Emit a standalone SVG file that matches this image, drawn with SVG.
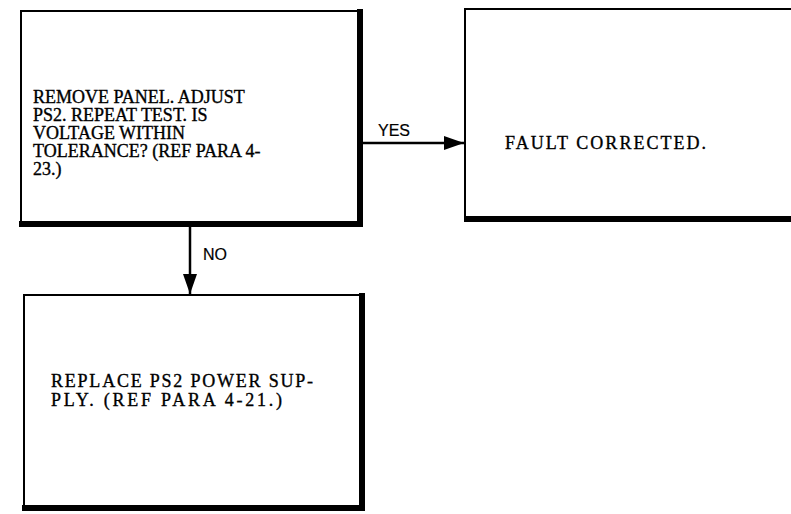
<svg xmlns="http://www.w3.org/2000/svg" width="791" height="514" viewBox="0 0 791 514">
  <style>
    .thin { stroke: #000; stroke-width: 2; fill: none; }
    .thick { stroke: #000; stroke-width: 6; fill: none; }
    .body { font-family: "Liberation Serif", "Times New Roman", serif; font-size: 18px; fill: #000; stroke: #000; stroke-width: 0.35; }
    .lbl { font-family: "Liberation Sans", Arial, sans-serif; font-size: 16px; fill: #000; stroke: #000; stroke-width: 0.2; }
    .conn { stroke: #000; stroke-width: 2.5; fill: none; }
  </style>
  <defs>
    <marker id="ah" markerWidth="22" markerHeight="14" refX="20" refY="7" orient="auto" markerUnits="userSpaceOnUse">
      <path d="M0,0 L20,7 L0,14 Z" fill="#000"/>
    </marker>
  </defs>
  <rect width="791" height="514" fill="#fff"/>

  <g id="node-adjust">
    <path class="thin" d="M360,11 H21 V224"/>
    <path class="thick" d="M360,9 V224 H19"/>
    <text class="body">
      <tspan x="33" y="103">REMOVE PANEL. ADJUST</tspan>
      <tspan x="33" y="121">PS2. REPEAT TEST. IS</tspan>
      <tspan x="33" y="139">VOLTAGE WITHIN</tspan>
      <tspan x="33" y="157">TOLERANCE? (REF PARA 4-</tspan>
      <tspan x="33" y="175">23.)</tspan>
    </text>
  </g>

  <g id="node-fault">
    <path class="thin" d="M791,9 H465 V219"/>
    <path class="thick" d="M464,219 H791"/>
    <text class="body" x="505" y="149" textLength="201">FAULT CORRECTED.</text>
  </g>

  <g id="node-replace">
    <path class="thin" d="M362,295 H24 V508"/>
    <path class="thick" d="M362,293 V508 H22"/>
    <text class="body">
      <tspan x="51" y="387" textLength="262">REPLACE PS2 POWER SUP-</tspan>
      <tspan x="51" y="406" textLength="231">PLY. (REF PARA 4-21.)</tspan>
    </text>
  </g>

  <g id="connectors">
    <line class="conn" x1="363" y1="143" x2="464" y2="143" marker-end="url(#ah)"/>
    <text class="lbl" x="378" y="136">YES</text>
    <line class="conn" x1="190" y1="227" x2="190" y2="294" marker-end="url(#ah)"/>
    <text class="lbl" x="203" y="260">NO</text>
  </g>
</svg>
